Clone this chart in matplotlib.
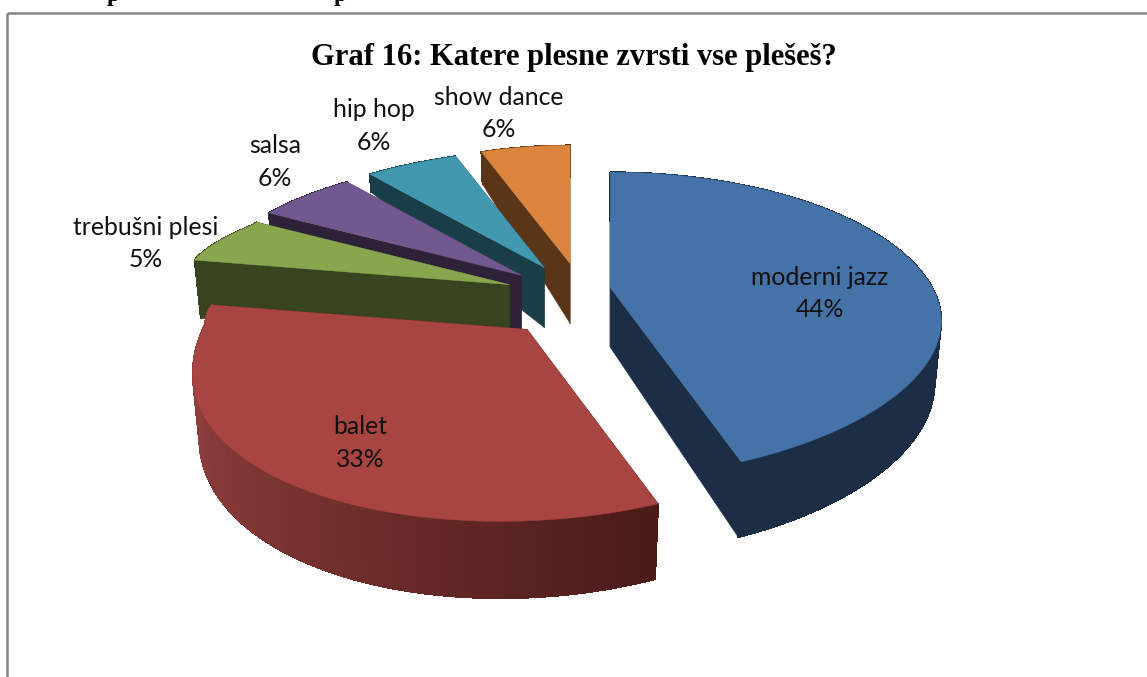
import numpy as np
import matplotlib
matplotlib.use('Agg')
import matplotlib.pyplot as plt
from matplotlib.colors import to_rgb

# Podatki
categories = ['moderni jazz', 'balet', 'trebušni plesi', 'salsa', 'hip hop', 'show dance']
shares = [44, 33, 5, 6, 6, 6]
title = 'Graf 16: Katere plesne zvrsti vse plešeš?'

top_colors = ['#4572a7', '#a84442', '#89a54e', '#71588f', '#4198af', '#db843d']
edge_colors = ['#1b2e46', '#4a1b19', '#384320', '#2e2239', '#1a3e49', '#5a3517']
rim_far = ['#1b2e46', '#8f3f3d', '#384320', '#2e2239', '#1a3e49', '#5a3517']

label_pos = [(820, 293.5), (360, 443), (146, 243.5), (275, 162), (374, 126), (499, 113.5)]
# zunanji rob manjših kosov je v izvirniku tanjši
outer_depth = [1, 1, 1, 0.27, 0.35, 0.65]

# Projekcija 3D torte na sliko
cx, cy = 559, 293
scale_x, scale_y = 322, 144
persp = 0.25
depth = 60


def project(x, y, z=0.0):
    w = 1 + persp * y
    wx = 1 + 0.36 * y * min(1, y / 0.4) if (x < 0 and y > 0) else w
    dx = scale_x * x / wx * (1 - 0.02 * z)
    dx -= 27 * min(y, 0) ** 2
    dy = -scale_y * y / w + depth * z / (1 + 0.22 * y)
    if x < 0:
        dy -= 7 * np.clip((y + 0.3) / 0.4, 0, 1) - 4 * np.clip((y - 0.5) / 0.4, 0, 1)
    return dx, dy


def offset(mid):
    s, c = np.sin(mid), np.cos(mid)
    up = 30 if c > 0 else 46
    return cx + 52 * s + 22 * max(c, 0) ** 3, cy - up * c


fig = plt.figure(figsize=(11.47, 6.77), dpi=100)
ax = fig.add_axes([0, 0, 1, 1])
ax.set_xlim(0, 1147)
ax.set_ylim(677, 0)
ax.axis('off')

# Okvir
ax.plot([7, 7], [677, 13], color='#868686', lw=1.8, solid_capstyle='butt')
ax.plot([7, 1147], [13, 13], color='#868686', lw=1.8, solid_capstyle='butt')

# Odrezana vrstica nad okvirjem
for px in (113, 340):
    ax.text(px, 0.5, 'p', family='Liberation Serif', weight='bold', fontsize=17,
            ha='center', va='baseline', clip_on=True)

ends = np.cumsum(shares) / sum(shares) * 2 * np.pi
starts = ends - np.array(shares) / sum(shares) * 2 * np.pi
mids = (starts + ends) / 2

# Od zadaj naprej
order = sorted(range(len(shares)), key=lambda i: -np.cos(mids[i]))
for i in order:
    ox, oy = offset(mids[i])


    def pt(x, y, z=0.0):
        px, py = project(x, y, z)
        return ox + px, oy + py


    t = np.linspace(starts[i], ends[i], 120)
    xs, ys = np.sin(t), np.cos(t)
    zo = outer_depth[i]

    # stranski ploskvi
    for a in (starts[i], ends[i]):
        ex, ey = np.sin(a), np.cos(a)
        p = [pt(0, 0), pt(ex, ey), pt(ex, ey, zo), pt(0, 0, 1)]
        ax.fill(*zip(*p), color=edge_colors[i], lw=0.3)

    # rob, proti desni temnejši
    c0 = np.array(to_rgb(edge_colors[i]))
    c1 = np.array(to_rgb(rim_far[i]))
    for j in range(len(t) - 1):
        f = np.clip((0.37 - xs[j]) / 1.37, 0, 1)
        p = [pt(xs[j], ys[j]), pt(xs[j + 1], ys[j + 1]),
             pt(xs[j + 1], ys[j + 1], zo), pt(xs[j], ys[j], zo)]
        ax.fill(*zip(*p), color=c0 + (c1 - c0) * f, lw=0.5, antialiased=False)

    # zgornja ploskev
    top = [pt(0, 0)] + [pt(a, b) for a, b in zip(xs, ys)]
    ax.fill(*zip(*top), color=top_colors[i], lw=0.3)

# Oznake
for name, val, (lx, ly) in zip(categories, shares, label_pos):
    ax.text(lx, ly, f'{name}\n{val}%', family='Lato', fontsize=17.8, color='#111111',
            ha='center', va='center', linespacing=1.52)

ax.text(573.5, 57, title, family='Liberation Serif', weight='bold', fontsize=22,
        ha='center', va='center')

fig.savefig('out.png', dpi=100)
